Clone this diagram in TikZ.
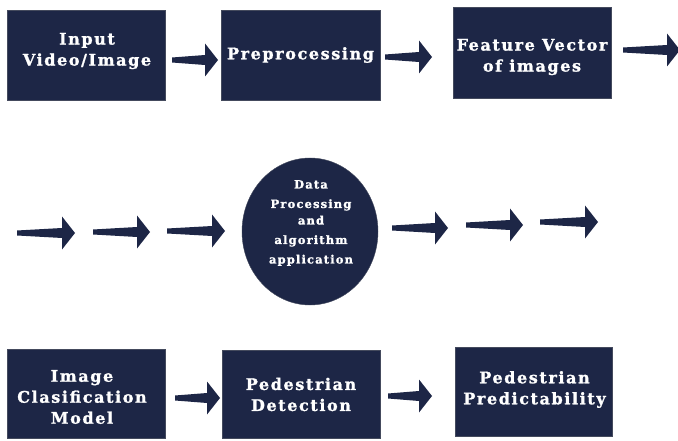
\documentclass[tikz,border=0pt]{standalone}
\usepackage{fontspec}
\newfontfamily\labelfont{DejaVu Serif}[LetterSpace=10, BoldFeatures={FakeBold=1.3}]
\usetikzlibrary{shapes.geometric,calc}
\definecolor{navy}{HTML}{1D2646}
\tikzset{
  box/.style={rectangle, fill=navy, draw=navy!60!gray, line width=0.4pt, inner sep=0pt},
  lbl/.style={text=white, font=\labelfont\bfseries\fontsize{16}{21}\selectfont, align=center, inner sep=0pt},
  elbl/.style={text=white, font=\labelfont\bfseries\fontsize{11.5}{19.5}\selectfont, align=center, inner sep=0pt},
}
\newcommand\fatarrow[2]{%
  \fill[navy] let \p1=(#1), \p2=(#2) in
    (\x1,\y1-2.5) -- (\x2-13,\y2-5) -- (\x2-13,\y2-16.5) -- (\x2,\y2)
    -- (\x2-13,\y2+16.5) -- (\x2-13,\y2+5) -- (\x1,\y1+2.5) -- cycle;}
\begin{document}
\begin{tikzpicture}[x=1pt,y=-1pt]
\useasboundingbox[fill=white] (0,0) rectangle (678,441);
% top row
\node[box, minimum width=158, minimum height=90] (b1) at (86,55) {};
\node[box, minimum width=159, minimum height=90] (b2) at (300.5,55) {};
\node[box, minimum width=158, minimum height=91] (b3) at (532,52.5) {};
\node[lbl] (t1) at (87,51) {Input\\Video/Image};
\node[lbl] (t2) at (300.5,55) {Preprocessing};
\node[lbl] (t3) at (532,57) {Feature Vector\\of images};
% middle
\node[ellipse, fill=navy, draw=navy!60!gray, minimum width=136, minimum height=147, inner sep=0pt] (e) at (310,231.5) {};
\node[elbl] (te) at (311,223) {Data\\Processing\\[-3pt]and\\algorithm\\application};
% bottom row
\node[box, minimum width=158, minimum height=89] (c1) at (86,393.5) {};
\node[box, minimum width=158, minimum height=88] (c2) at (301,394) {};
\node[box, minimum width=157, minimum height=89] (c3) at (533.5,391.5) {};
\node[lbl] (u1) at (82,397) {Image\\Clasification\\Model};
\node[lbl] (u2) at (301,394.5) {Pedestrian\\Detection};
\node[lbl] (u3) at (534.5,389.5) {Pedestrian\\Predictability};
% arrow end points
\coordinate (a1s) at (172,60);  \coordinate (a1e) at (218,60);
\coordinate (a2s) at (385,57);  \coordinate (a2e) at (432,57);
\coordinate (a3s) at (623,50);  \coordinate (a3e) at (680,50);
\coordinate (m1s) at (17,233);  \coordinate (m1e) at (75,233);
\coordinate (m2s) at (93,232);  \coordinate (m2e) at (150,232);
\coordinate (m3s) at (167,231); \coordinate (m3e) at (225,231);
\coordinate (m4s) at (392,228); \coordinate (m4e) at (448,228);
\coordinate (m5s) at (466,225); \coordinate (m5e) at (523,225);
\coordinate (m6s) at (540,222); \coordinate (m6e) at (598,222);
\coordinate (d1s) at (175,398); \coordinate (d1e) at (220,398);
\coordinate (d2s) at (388,396); \coordinate (d2e) at (432,396);
\fatarrow{a1s}{a1e}\fatarrow{a2s}{a2e}\fatarrow{a3s}{a3e}
\fatarrow{m1s}{m1e}\fatarrow{m2s}{m2e}\fatarrow{m3s}{m3e}
\fatarrow{m4s}{m4e}\fatarrow{m5s}{m5e}\fatarrow{m6s}{m6e}
\fatarrow{d1s}{d1e}\fatarrow{d2s}{d2e}
\end{tikzpicture}
\end{document}
